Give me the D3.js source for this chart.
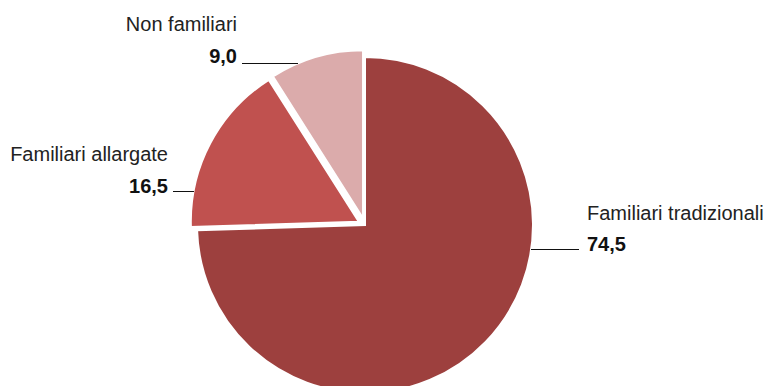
<!DOCTYPE html>
<html>
<head>
<meta charset="utf-8">
<script src="https://cdn.jsdelivr.net/npm/d3@7"></script>
<style>
  body { margin: 0; background: #fff; }
  svg { display: block; }
</style>
</head>
<body>
<svg></svg>
<script>
var width = 768
var height = 386

// data
var categories = ["Familiari tradizionali", "Familiari allargate", "Non familiari"]
var values = [74.5, 16.5, 9.0]
var colors = ["#9d403e", "#c0514f", "#dbabab"]

// label layout (text x, name baseline, value baseline, anchor, leader line x0/x1/y)
var labelPos = [
  {x: 587, y1: 219.5, y2: 250.5, anchor: "start", lx0: 531, lx1: 579, ly: 249.5},
  {x: 168, y1: 161, y2: 192.5, anchor: "end", lx0: 173, lx1: 194, ly: 191.5},
  {x: 237, y1: 31, y2: 63, anchor: "end", lx0: 242, lx1: 298, ly: 63.5}
]
// how far each slice is pulled out from the centre
var explode = [0, 7, 7]

var cx = 365, cy = 225, radius = 168

var data = categories.map((c, i) => ({name: c, value: values[i], color: colors[i]}))

var pie = d3.pie()
    .value(d => d.value)
    .sort(null)
var arc = d3.arc()
    .innerRadius(0)
    .outerRadius(radius)

const svg = d3.select("svg")
    .attr("width", width)
    .attr("height", height)
    .attr("viewBox", [0, 0, width, height])

const g = svg.append("g")
    .attr("transform", `translate(${cx},${cy})`)

g.selectAll("path")
    .data(pie(data))
    .join("path")
    .attr("fill", d => d.data.color)
    .attr("stroke", "#fff")
    .attr("stroke-width", 2)
    .attr("stroke-linejoin", "miter")
    .attr("transform", (d, i) => {
        const a = (d.startAngle + d.endAngle) / 2
        return `translate(${Math.sin(a) * explode[i]},${-Math.cos(a) * explode[i]})`
    })
    .attr("d", arc)

const labels = svg.append("g")
    .attr("font-family", "'Liberation Sans', Arial, sans-serif")
    .selectAll("g")
    .data(data)
    .join("g")

labels.append("text")
    .attr("x", (d, i) => labelPos[i].x)
    .attr("y", (d, i) => labelPos[i].y1)
    .attr("text-anchor", (d, i) => labelPos[i].anchor)
    .attr("font-size", 20)
    .attr("fill", "#222")
    .text(d => d.name)

labels.append("text")
    .attr("x", (d, i) => labelPos[i].x)
    .attr("y", (d, i) => labelPos[i].y2)
    .attr("text-anchor", (d, i) => labelPos[i].anchor)
    .attr("font-size", 20)
    .attr("font-weight", "bold")
    .attr("fill", "#111")
    .text(d => d3.format(".1f")(d.value).replace(".", ","))

labels.append("line")
    .attr("x1", (d, i) => labelPos[i].lx0)
    .attr("x2", (d, i) => labelPos[i].lx1)
    .attr("y1", (d, i) => labelPos[i].ly)
    .attr("y2", (d, i) => labelPos[i].ly)
    .attr("stroke", "#111")
    .attr("stroke-width", 1)
</script>
</body>
</html>
